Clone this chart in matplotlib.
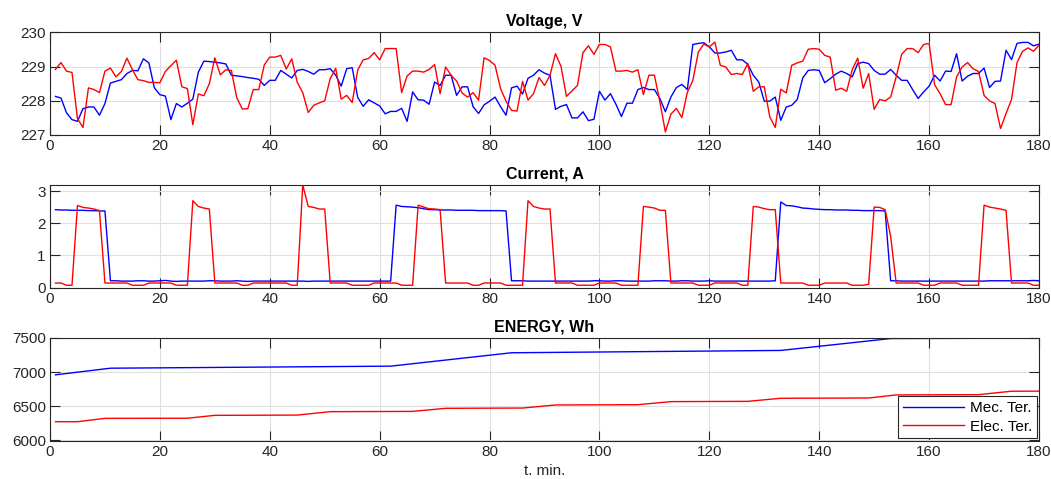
import matplotlib
matplotlib.use("Agg")
import matplotlib.pyplot as plt
import numpy as np

plt.rcParams['font.family'] = ['Liberation Sans', 'DejaVu Sans']

# tiempo en minutos (1..180)
t = np.arange(1, 181)

# Voltage, V
v_mec = [
    228.13, 228.08, 227.65, 227.45, 227.40, 227.77, 227.82, 227.82, 227.58, 227.92,
    228.52, 228.57, 228.62, 228.80, 228.89, 228.88, 229.23, 229.11, 228.38, 228.18,
    228.14, 227.45, 227.92, 227.82, 227.93, 228.05, 228.84, 229.16, 229.15, 229.13,
    229.11, 229.08, 228.75, 228.73, 228.71, 228.68, 228.66, 228.63, 228.45, 228.60,
    228.60, 228.89, 228.78, 228.67, 228.89, 228.92, 228.86, 228.78, 228.91, 228.91,
    228.94, 228.75, 228.43, 228.94, 228.97, 228.10, 227.84, 228.03, 227.94, 227.85,
    227.62, 227.69, 227.69, 227.78, 227.40, 228.26, 228.03, 228.02, 227.90, 228.55,
    228.45, 228.75, 228.75, 228.16, 228.41, 228.41, 227.83, 227.63, 227.88, 227.99,
    228.11, 227.83, 227.58, 228.38, 228.43, 228.20, 228.66, 228.75, 228.91, 228.81,
    228.75, 227.75, 227.84, 227.89, 227.50, 227.50, 227.68, 227.42, 227.46, 228.28,
    228.02, 228.21, 227.90, 227.54, 227.93, 227.93, 228.33, 228.39, 228.33, 228.33,
    228.07, 227.68, 228.11, 228.39, 228.48, 228.33, 229.65, 229.68, 229.70, 229.58,
    229.40, 229.40, 229.43, 229.48, 229.20, 229.20, 229.07, 228.75, 228.55, 227.99,
    227.99, 228.11, 227.43, 227.82, 227.87, 228.04, 228.67, 228.89, 228.91, 228.89,
    228.53, 228.65, 228.78, 228.87, 228.80, 228.70, 229.09, 229.13, 229.09, 228.89,
    228.78, 228.78, 228.92, 228.75, 228.60, 228.60, 228.33, 228.07, 228.26, 228.43,
    228.75, 228.58, 228.87, 228.86, 229.38, 228.58, 228.72, 228.80, 228.80, 228.96,
    228.39, 228.57, 228.58, 229.48, 229.21, 229.68, 229.71, 229.71, 229.61, 229.66,
]
v_elec = [
    228.92, 229.12, 228.87, 228.83, 227.48, 227.22, 228.38, 228.33, 228.24, 228.87,
    228.96, 228.70, 228.86, 229.25, 228.91, 228.62, 228.59, 228.54, 228.54, 228.53,
    228.86, 229.03, 229.19, 228.41, 228.36, 227.30, 228.20, 228.15, 228.50, 229.26,
    228.76, 228.91, 228.89, 228.09, 227.76, 227.77, 228.33, 228.33, 229.05, 229.28,
    229.28, 229.33, 228.93, 229.23, 228.54, 228.24, 227.66, 227.87, 227.94, 228.00,
    228.65, 228.95, 228.05, 228.16, 227.95, 228.90, 229.20, 229.24, 229.41, 229.20,
    229.53, 229.53, 229.53, 228.24, 228.73, 228.87, 228.87, 228.84, 228.92, 229.06,
    228.21, 228.99, 228.75, 228.58, 228.23, 228.11, 228.24, 228.02, 229.26, 229.18,
    229.04, 228.36, 227.99, 227.72, 227.70, 228.57, 228.02, 228.21, 228.68, 228.45,
    228.75, 229.38, 229.01, 228.13, 228.29, 228.45, 229.41, 229.61, 229.36, 229.65,
    229.65, 229.58, 228.87, 228.87, 228.89, 228.84, 228.91, 228.18, 228.75, 228.75,
    227.97, 227.09, 227.61, 227.78, 227.51, 228.25, 228.60, 229.43, 229.66, 229.58,
    229.72, 229.04, 228.99, 228.77, 228.80, 228.77, 229.09, 228.28, 228.41, 228.41,
    227.53, 227.22, 228.34, 228.23, 229.04, 229.11, 229.16, 229.51, 229.53, 229.51,
    229.33, 229.28, 228.31, 228.37, 228.28, 228.91, 229.25, 228.37, 228.80, 227.75,
    228.04, 228.00, 228.11, 228.70, 229.36, 229.53, 229.53, 229.41, 229.65, 229.68,
    228.47, 228.21, 227.89, 227.89, 228.70, 228.99, 229.12, 228.94, 228.86, 228.16,
    228.00, 227.92, 227.19, 227.63, 228.04, 229.12, 229.45, 229.55, 229.45, 229.63,
]

# Current, A
i_mec = [
    2.43, 2.42, 2.42, 2.41, 2.41, 2.41, 2.40, 2.40, 2.39, 2.39,
    0.21, 0.21, 0.20, 0.20, 0.20, 0.21, 0.21, 0.20, 0.20, 0.21,
    0.22, 0.20, 0.19, 0.20, 0.20, 0.20, 0.20, 0.20, 0.21, 0.21,
    0.20, 0.20, 0.20, 0.21, 0.20, 0.19, 0.20, 0.20, 0.20, 0.20,
    0.20, 0.20, 0.20, 0.20, 0.20, 0.20, 0.19, 0.20, 0.20, 0.20,
    0.20, 0.20, 0.20, 0.20, 0.20, 0.20, 0.20, 0.20, 0.20, 0.20,
    0.20, 0.20, 2.57, 2.53, 2.52, 2.51, 2.49, 2.46, 2.43, 2.43,
    2.42, 2.42, 2.42, 2.41, 2.41, 2.41, 2.41, 2.40, 2.40, 2.40,
    2.40, 2.40, 2.39, 0.21, 0.21, 0.21, 0.20, 0.20, 0.20, 0.20,
    0.20, 0.20, 0.20, 0.20, 0.20, 0.20, 0.20, 0.20, 0.21, 0.21,
    0.20, 0.20, 0.21, 0.21, 0.20, 0.20, 0.20, 0.20, 0.20, 0.21,
    0.21, 0.21, 0.20, 0.20, 0.21, 0.21, 0.20, 0.20, 0.20, 0.21,
    0.20, 0.20, 0.20, 0.20, 0.20, 0.20, 0.20, 0.20, 0.20, 0.20,
    0.20, 0.21, 2.67, 2.56, 2.55, 2.52, 2.48, 2.47, 2.45, 2.44,
    2.43, 2.43, 2.42, 2.42, 2.42, 2.41, 2.41, 2.40, 2.40, 2.40,
    2.40, 2.39, 0.21, 0.21, 0.20, 0.20, 0.20, 0.20, 0.20, 0.20,
    0.20, 0.20, 0.20, 0.20, 0.20, 0.20, 0.20, 0.20, 0.20, 0.20,
    0.21, 0.21, 0.21, 0.21, 0.21, 0.21, 0.21, 0.21, 0.22, 0.21,
]
i_elec = [
    0.14, 0.14, 0.07, 0.07, 2.56, 2.50, 2.48, 2.45, 2.40, 0.14,
    0.14, 0.14, 0.14, 0.14, 0.07, 0.07, 0.07, 0.14, 0.14, 0.14,
    0.14, 0.14, 0.07, 0.07, 0.07, 2.71, 2.53, 2.48, 2.45, 0.14,
    0.14, 0.14, 0.14, 0.14, 0.07, 0.07, 0.14, 0.14, 0.14, 0.14,
    0.14, 0.14, 0.14, 0.07, 0.07, 3.20, 2.53, 2.50, 2.45, 2.45,
    0.14, 0.14, 0.14, 0.14, 0.07, 0.07, 0.07, 0.07, 0.14, 0.14,
    0.14, 0.14, 0.14, 0.07, 0.07, 0.07, 2.57, 2.51, 2.46, 2.45,
    2.43, 0.14, 0.14, 0.14, 0.14, 0.14, 0.07, 0.07, 0.14, 0.14,
    0.14, 0.14, 0.07, 0.07, 0.07, 0.07, 2.71, 2.53, 2.48, 2.45,
    2.45, 0.14, 0.14, 0.14, 0.14, 0.07, 0.07, 0.07, 0.07, 0.14,
    0.14, 0.14, 0.14, 0.07, 0.07, 0.07, 0.07, 2.53, 2.51, 2.48,
    2.41, 2.41, 0.14, 0.14, 0.14, 0.14, 0.14, 0.07, 0.07, 0.07,
    0.14, 0.14, 0.14, 0.14, 0.14, 0.07, 0.07, 2.53, 2.51, 2.46,
    2.43, 2.43, 0.14, 0.14, 0.14, 0.14, 0.14, 0.07, 0.07, 0.07,
    0.14, 0.14, 0.14, 0.14, 0.14, 0.07, 0.07, 0.07, 0.10, 2.51,
    2.50, 2.43, 1.60, 0.14, 0.14, 0.14, 0.14, 0.14, 0.07, 0.07,
    0.07, 0.14, 0.14, 0.14, 0.14, 0.07, 0.07, 0.07, 0.07, 2.57,
    2.51, 2.48, 2.45, 2.41, 0.14, 0.14, 0.14, 0.14, 0.07, 0.07,
]

# ENERGY, Wh (puntos de quiebre)
t_e_mec = [1, 11, 62, 84, 133, 153, 180]
e_mec = [6961, 7058, 7088, 7284, 7318, 7492, 7498]
t_e_elec = [1, 5, 10, 25, 30, 45, 51, 66, 72, 86, 92, 107, 113, 127, 133, 149, 154, 169, 175, 180]
e_elec = [6275, 6275, 6324, 6326, 6368, 6372, 6422, 6426, 6471, 6475,
          6520, 6524, 6569, 6573, 6618, 6622, 6667, 6671, 6721, 6722]

xticks = np.arange(0, 181, 20)

fig = plt.figure(figsize=(10.51, 4.79), dpi=100)
W, H = 1051, 479
left, right = 50, 1039
tops = [32.5, 185, 338]
h = 102.5
axes = []
for top in tops:
    ax = fig.add_axes([left / W, 1 - (top + h) / H, (right - left) / W, h / H])
    axes.append(ax)

ax1, ax2, ax3 = axes
ax1.plot(t, v_mec, color='#0000ff', lw=1.0)
ax1.plot(t, v_elec, color='#ff0000', lw=1.0)
ax1.set_ylim(227, 230)
ax1.set_yticks([227, 228, 229, 230])
ax1.set_title('Voltage, V', fontweight='bold', fontsize=11.5, pad=5)

ax2.plot(t, i_mec, color='#0000ff', lw=1.0)
ax2.plot(t, i_elec, color='#ff0000', lw=1.0)
ax2.set_ylim(0, 3.2)
ax2.set_yticks([0, 1, 2, 3])
ax2.set_title('Current, A', fontweight='bold', fontsize=11.5, pad=5)

ax3.plot(t_e_mec, e_mec, color='#0000ff', lw=1.0, label='Mec. Ter.')
ax3.plot(t_e_elec, e_elec, color='#ff0000', lw=1.0, label='Elec. Ter.')
ax3.set_ylim(6000, 7500)
ax3.set_yticks([6000, 6500, 7000, 7500])
ax3.set_title('ENERGY, Wh', fontweight='bold', fontsize=11.5, pad=5)
ax3.set_xlabel('t. min.', fontsize=11, color='#262626', labelpad=4)
leg = ax3.legend(loc='lower right', fontsize=11, handlelength=4, handletextpad=0.4,
                 borderaxespad=0.15, fancybox=False, framealpha=1, borderpad=0.3,
                 labelspacing=0.3)
leg.get_frame().set_edgecolor('#262626')
leg.get_frame().set_linewidth(0.8)

for ax in axes:
    ax.set_xlim(0, 180)
    ax.set_xticks(xticks)
    ax.grid(True, color='#e0e0e0', lw=0.8)
    ax.set_axisbelow(True)
    ax.tick_params(direction='in', length=7, width=0.8, top=True, right=True,
                   labelsize=11, labelcolor='#262626', color='#262626', pad=3)
    for s in ax.spines.values():
        s.set_color('#262626')
        s.set_linewidth(0.8)

fig.savefig('out.png', dpi=100)
